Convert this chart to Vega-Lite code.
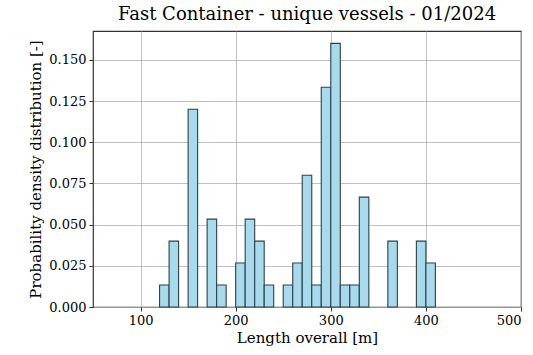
{
  "$schema": "https://vega.github.io/schema/vega-lite/v6.json",
  "width": 428,
  "height": 276,
  "autosize": "none",
  "padding": {"left": 93, "top": 31, "right": 12, "bottom": 48},
  "title": {"text": "Fast Container - unique vessels - 01/2024", "font": "DejaVu Serif", "fontSize": 18, "fontWeight": "normal", "color": "#000000", "offset": 7},
  "config": {
    "view": {"stroke": "#333333", "strokeWidth": 1.2}
  },
  "data": {"values": [
    {"start": 120, "end": 130, "density": 0.01333},
    {"start": 130, "end": 140, "density": 0.04},
    {"start": 150, "end": 160, "density": 0.12},
    {"start": 170, "end": 180, "density": 0.05333},
    {"start": 180, "end": 190, "density": 0.01333},
    {"start": 200, "end": 210, "density": 0.02667},
    {"start": 210, "end": 220, "density": 0.05333},
    {"start": 220, "end": 230, "density": 0.04},
    {"start": 230, "end": 240, "density": 0.01333},
    {"start": 250, "end": 260, "density": 0.01333},
    {"start": 260, "end": 270, "density": 0.02667},
    {"start": 270, "end": 280, "density": 0.08},
    {"start": 280, "end": 290, "density": 0.01333},
    {"start": 290, "end": 300, "density": 0.13333},
    {"start": 300, "end": 310, "density": 0.16},
    {"start": 310, "end": 320, "density": 0.01333},
    {"start": 320, "end": 330, "density": 0.01333},
    {"start": 330, "end": 340, "density": 0.06667},
    {"start": 360, "end": 370, "density": 0.04},
    {"start": 390, "end": 400, "density": 0.04},
    {"start": 400, "end": 410, "density": 0.02667}
  ]},
  "mark": {"type": "rect", "fill": "#a8daed", "stroke": "#2f3f46", "strokeWidth": 1.1},
  "encoding": {
    "x": {"field": "start", "type": "quantitative", "scale": {"domain": [50, 500], "nice": false, "zero": false},
      "axis": {"title": "Length overall [m]", "values": [100, 200, 300, 400, 500], "titlePadding": 3,
        "labelFont": "DejaVu Serif", "titleFont": "DejaVu Serif", "labelFontSize": 13, "titleFontSize": 15, "titleFontWeight": "normal", "labelColor": "#000000", "titleColor": "#000000", "gridColor": "#b0b0b0", "gridWidth": 0.8, "domain": false, "tickColor": "#333333", "tickSize": 4, "labelPadding": 3}},
    "x2": {"field": "end"},
    "y": {"field": "density", "type": "quantitative", "scale": {"domain": [0, 0.1675], "nice": false},
      "axis": {"title": "Probability density distribution [-]", "values": [0, 0.025, 0.05, 0.075, 0.1, 0.125, 0.15], "format": ".3f", "titlePadding": 5,
        "labelFont": "DejaVu Serif", "titleFont": "DejaVu Serif", "labelFontSize": 13, "titleFontSize": 15, "titleFontWeight": "normal", "labelColor": "#000000", "titleColor": "#000000", "gridColor": "#b0b0b0", "gridWidth": 0.8, "domain": false, "tickColor": "#333333", "tickSize": 4, "labelPadding": 3}}
  }
}
